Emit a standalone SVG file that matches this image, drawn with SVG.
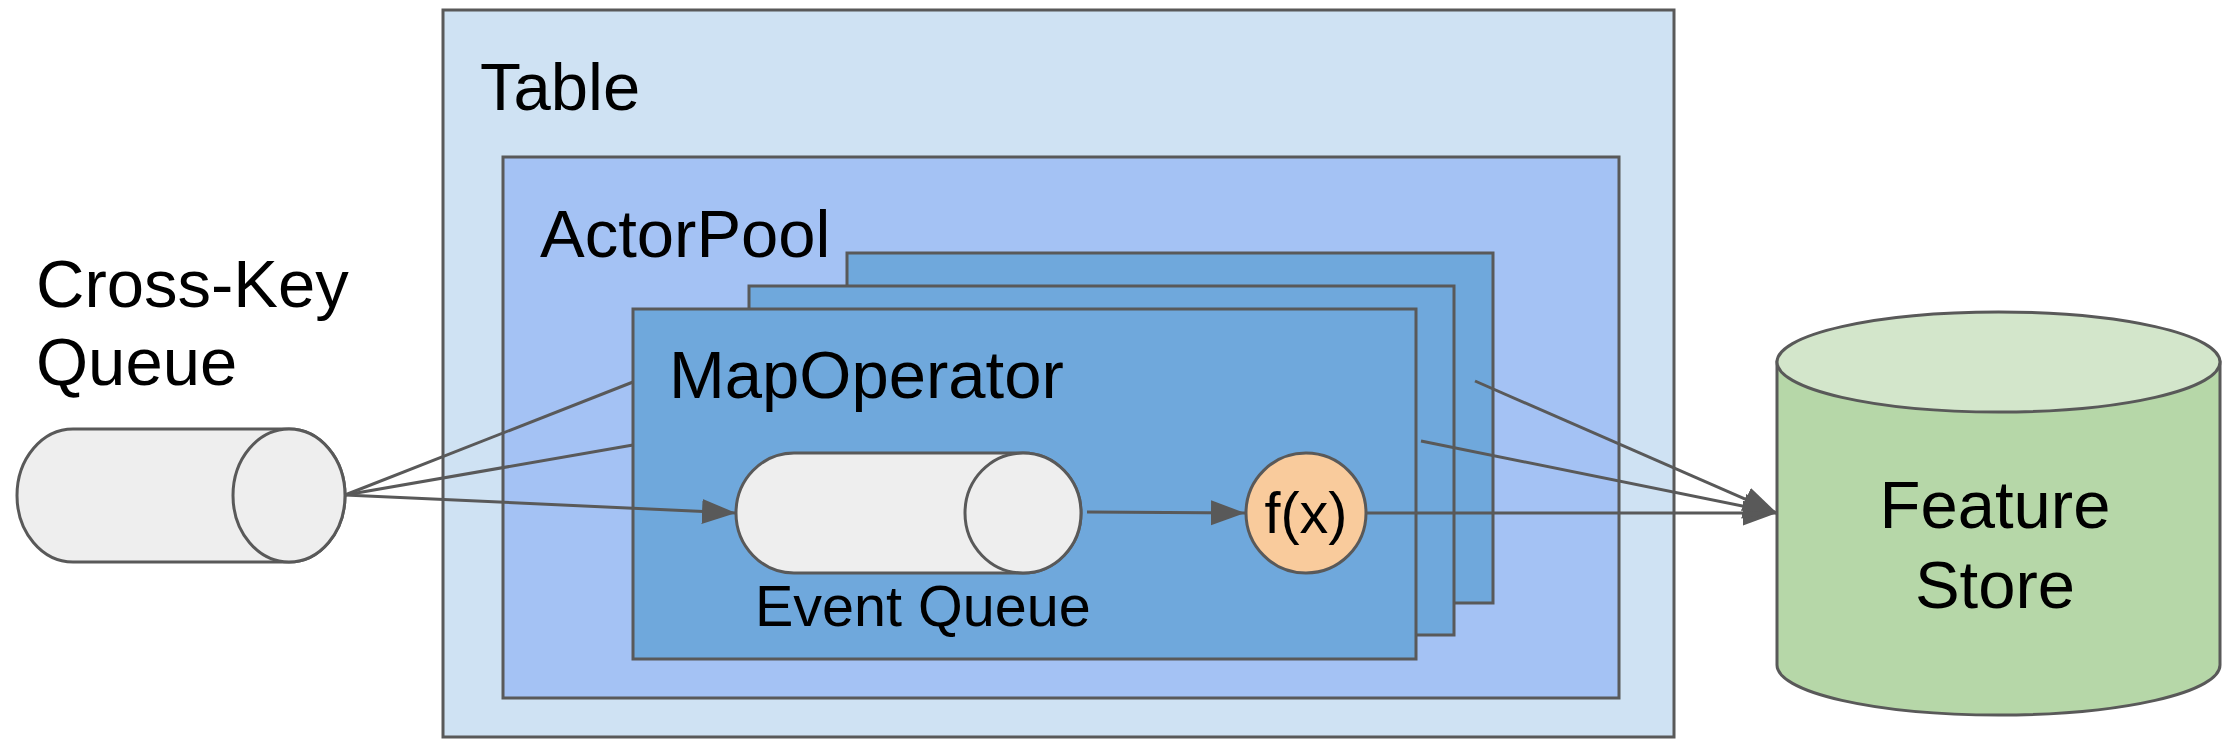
<svg xmlns="http://www.w3.org/2000/svg" width="2236" height="754" viewBox="0 0 2236 754">
<style>
.s{stroke:#595959;stroke-width:3}
.t{font-family:"Liberation Sans",Arial,sans-serif;fill:#000}
.big{font-size:67px}
.mid{font-size:57.5px}
.ln{stroke:#595959;stroke-width:3;fill:none}
</style>
<defs>
<marker id="ah" markerUnits="userSpaceOnUse" markerWidth="36" markerHeight="26" refX="34" refY="12.5" orient="auto">
<path d="M0,0 L34,12.5 L0,25 Z" fill="#595959"/>
</marker>
</defs>
<rect width="2236" height="754" fill="#ffffff"/>
<g id="table">
<rect class="s" x="443" y="10" width="1231" height="727" fill="#cfe2f3"/>
<text class="t big" x="480" y="110">Table</text>
</g>
<g id="actorpool">
<rect class="s" x="503" y="157" width="1116" height="541" fill="#a4c2f4"/>
<text class="t big" x="540" y="257">ActorPool</text>
</g>
<g id="mapop3">
<rect class="s" x="847" y="253" width="646" height="350" fill="#6fa8dc"/>
</g>
<g id="mapop2">
<rect class="s" x="749" y="286" width="705" height="349" fill="#6fa8dc"/>
</g>
<g id="mapoperator">
<rect class="s" x="633" y="309" width="783" height="350" fill="#6fa8dc"/>
<text class="t big" x="669" y="398">MapOperator</text>
</g>
<g id="crosskey">
<path class="s" d="M73,429 L289,429 A56,66.5 0 0 1 289,562 L73,562 A56,66.5 0 0 1 73,429 Z" fill="#eeeeee"/>
<ellipse class="s" cx="289" cy="495.5" rx="56" ry="66.5" fill="#eeeeee"/>
<text class="t big" x="36" y="307">Cross-Key</text>
<text class="t big" x="36" y="385">Queue</text>
</g>
<g id="eventqueue">
<path class="s" d="M794,453 L1023,453 A58,60 0 0 1 1023,573 L794,573 A58,60 0 0 1 794,453 Z" fill="#eeeeee"/>
<ellipse class="s" cx="1023" cy="513" rx="58" ry="60" fill="#eeeeee"/>
<text class="t mid" x="755" y="626">Event Queue</text>
</g>
<g id="fx">
<ellipse class="s" cx="1306" cy="513" rx="60" ry="60" fill="#f9cb9c"/>
<text class="t mid" x="1306" y="533" text-anchor="middle">f(x)</text>
</g>
<g id="featurestore">
<path class="s" d="M1777,362 L1777,665 A221.5,50 0 0 0 2220,665 L2220,362 Z" fill="#b6d7a8"/>
<ellipse class="s" cx="1998.5" cy="362" rx="221.5" ry="50" fill="#d3e6cb"/>
<text class="t big" x="1995" y="528" text-anchor="middle">Feature</text>
<text class="t big" x="1995" y="608" text-anchor="middle">Store</text>
</g>
<g id="connectors">
<line class="ln" x1="345" y1="495" x2="633" y2="382"/>
<line class="ln" x1="345" y1="495" x2="633" y2="445"/>
<line class="ln" x1="345" y1="495" x2="736" y2="513" marker-end="url(#ah)"/>
<line class="ln" x1="1087" y1="512" x2="1245" y2="513" marker-end="url(#ah)"/>
<line class="ln" x1="1367" y1="513" x2="1777" y2="513" marker-end="url(#ah)"/>
<line class="ln" x1="1421" y1="441" x2="1777" y2="513" marker-end="url(#ah)"/>
<line class="ln" x1="1475" y1="381" x2="1777" y2="513" marker-end="url(#ah)"/>
</g>
</svg>
